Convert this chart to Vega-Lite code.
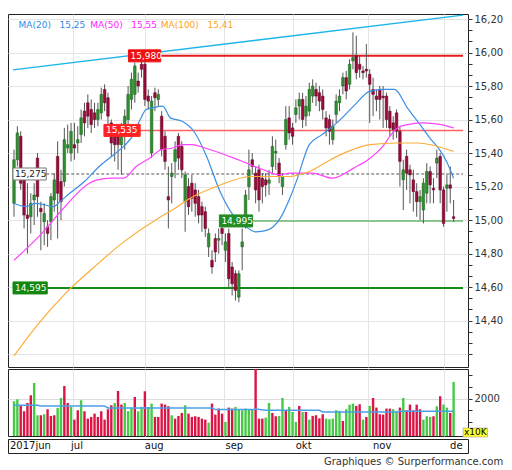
{
"$schema":"https://vega.github.io/schema/vega-lite/v6.json",
"background":"#ffffff",
"padding":{"left":7,"top":13,"right":2,"bottom":2},
"autosize":{"type":"pad"},
"spacing":0,
"config":{"view":{"stroke":"#222222","strokeWidth":1},"font":"DejaVu Sans","axis":{"labelFont":"DejaVu Sans"}},
"title":{"text":"Graphiques © Surperformance.com","orient":"bottom","anchor":"end","fontSize":10,"fontWeight":"normal","color":"#333333","font":"DejaVu Sans","offset":3},
"datasets":{
"p":[
{"i":0,"o":15.10,"h":15.42,"l":15.02,"c":15.36,"v":1889,"u":1},
{"i":1,"o":15.36,"h":15.56,"l":15.32,"c":15.52,"v":1974,"u":1},
{"i":2,"o":15.50,"h":15.53,"l":15.18,"c":15.22,"v":1688,"u":0},
{"i":3,"o":15.25,"h":15.30,"l":14.95,"c":15.03,"v":1460,"u":0},
{"i":4,"o":15.03,"h":15.22,"l":14.80,"c":15.01,"v":1816,"u":0},
{"i":5,"o":15.02,"h":15.16,"l":14.92,"c":15.10,"v":2145,"u":0},
{"i":6,"o":15.12,"h":15.22,"l":14.97,"c":15.15,"v":2672,"u":1},
{"i":7,"o":15.37,"h":15.40,"l":15.02,"c":15.14,"v":1289,"u":1},
{"i":8,"o":15.07,"h":15.11,"l":14.82,"c":15.05,"v":1289,"u":0},
{"i":9,"o":14.99,"h":15.10,"l":14.85,"c":15.04,"v":1332,"u":1},
{"i":10,"o":14.96,"h":15.00,"l":14.84,"c":14.92,"v":1546,"u":0},
{"i":11,"o":14.99,"h":15.16,"l":14.88,"c":15.14,"v":1260,"u":0},
{"i":12,"o":15.12,"h":15.28,"l":15.05,"c":15.24,"v":1289,"u":0},
{"i":13,"o":15.38,"h":15.47,"l":14.89,"c":15.16,"v":1602,"u":1},
{"i":14,"o":15.23,"h":15.30,"l":15.00,"c":15.11,"v":2030,"u":1},
{"i":15,"o":15.23,"h":15.55,"l":15.20,"c":15.48,"v":2544,"u":0},
{"i":16,"o":15.43,"h":15.57,"l":15.40,"c":15.45,"v":1816,"u":0},
{"i":17,"o":15.40,"h":15.58,"l":15.35,"c":15.53,"v":1645,"u":1},
{"i":18,"o":15.45,"h":15.58,"l":15.36,"c":15.43,"v":1101,"u":0},
{"i":19,"o":15.46,"h":15.56,"l":15.40,"c":15.48,"v":1503,"u":0},
{"i":20,"o":15.51,"h":15.66,"l":15.46,"c":15.61,"v":1931,"u":1},
{"i":21,"o":15.65,"h":15.70,"l":15.50,"c":15.58,"v":1460,"u":0},
{"i":22,"o":15.70,"h":15.75,"l":15.55,"c":15.62,"v":1144,"u":0},
{"i":23,"o":15.66,"h":15.72,"l":15.52,"c":15.57,"v":1217,"u":0},
{"i":24,"o":15.64,"h":15.70,"l":15.55,"c":15.60,"v":1358,"u":0},
{"i":25,"o":15.60,"h":15.70,"l":15.56,"c":15.66,"v":1217,"u":0},
{"i":26,"o":15.64,"h":15.79,"l":15.60,"c":15.75,"v":1460,"u":0},
{"i":27,"o":15.78,"h":15.81,"l":15.65,"c":15.70,"v":1101,"u":0},
{"i":28,"o":15.73,"h":15.76,"l":15.55,"c":15.62,"v":1546,"u":0},
{"i":29,"o":15.58,"h":15.60,"l":15.38,"c":15.46,"v":1717,"u":0},
{"i":30,"o":15.52,"h":15.55,"l":15.35,"c":15.45,"v":1816,"u":1},
{"i":31,"o":15.50,"h":15.56,"l":15.30,"c":15.45,"v":2330,"u":0},
{"i":32,"o":15.45,"h":15.58,"l":15.27,"c":15.53,"v":1745,"u":0},
{"i":33,"o":15.52,"h":15.66,"l":15.42,"c":15.62,"v":1816,"u":1},
{"i":34,"o":15.60,"h":15.80,"l":15.55,"c":15.75,"v":1460,"u":1},
{"i":35,"o":15.72,"h":15.88,"l":15.66,"c":15.84,"v":1602,"u":1},
{"i":36,"o":15.75,"h":15.94,"l":15.70,"c":15.92,"v":2073,"u":0},
{"i":37,"o":15.83,"h":15.88,"l":15.76,"c":15.80,"v":1460,"u":1},
{"i":38,"o":15.93,"h":15.96,"l":15.85,"c":15.90,"v":1645,"u":1},
{"i":39,"o":15.93,"h":15.98,"l":15.68,"c":15.72,"v":2316,"u":0},
{"i":40,"o":15.74,"h":15.78,"l":15.66,"c":15.71,"v":1645,"u":1},
{"i":41,"o":15.40,"h":15.74,"l":15.37,"c":15.71,"v":1788,"u":1},
{"i":42,"o":15.76,"h":15.79,"l":15.65,"c":15.73,"v":1217,"u":0},
{"i":43,"o":15.72,"h":15.78,"l":15.68,"c":15.75,"v":1217,"u":0},
{"i":44,"o":15.62,"h":15.65,"l":15.38,"c":15.42,"v":1788,"u":0},
{"i":45,"o":15.50,"h":15.53,"l":15.30,"c":15.35,"v":1745,"u":0},
{"i":46,"o":15.14,"h":15.32,"l":14.95,"c":15.12,"v":1674,"u":0},
{"i":47,"o":15.26,"h":15.34,"l":15.10,"c":15.28,"v":1289,"u":1},
{"i":48,"o":15.35,"h":15.47,"l":15.25,"c":15.42,"v":1144,"u":0},
{"i":49,"o":15.50,"h":15.52,"l":15.30,"c":15.37,"v":1260,"u":0},
{"i":50,"o":15.44,"h":15.47,"l":15.25,"c":15.30,"v":1388,"u":0},
{"i":51,"o":15.11,"h":15.29,"l":14.93,"c":15.27,"v":1717,"u":1},
{"i":52,"o":15.20,"h":15.25,"l":15.03,"c":15.08,"v":1358,"u":0},
{"i":53,"o":15.22,"h":15.27,"l":15.05,"c":15.13,"v":1217,"u":0},
{"i":54,"o":15.18,"h":15.22,"l":15.02,"c":15.10,"v":1246,"u":0},
{"i":55,"o":15.14,"h":15.18,"l":14.98,"c":15.03,"v":1217,"u":0},
{"i":56,"o":15.08,"h":15.11,"l":14.93,"c":15.03,"v":1144,"u":0},
{"i":57,"o":15.05,"h":15.08,"l":14.90,"c":14.95,"v":1101,"u":0},
{"i":58,"o":14.84,"h":14.95,"l":14.78,"c":14.92,"v":973,"u":1},
{"i":59,"o":14.76,"h":14.82,"l":14.68,"c":14.72,"v":1788,"u":0},
{"i":60,"o":14.89,"h":14.92,"l":14.75,"c":14.81,"v":1317,"u":0},
{"i":61,"o":14.88,"h":14.95,"l":14.80,"c":14.89,"v":1574,"u":0},
{"i":62,"o":14.95,"h":15.00,"l":14.85,"c":14.92,"v":1358,"u":0},
{"i":63,"o":14.82,"h":14.92,"l":14.75,"c":14.87,"v":1003,"u":1},
{"i":64,"o":14.92,"h":14.95,"l":14.60,"c":14.65,"v":1617,"u":0},
{"i":65,"o":14.72,"h":14.75,"l":14.55,"c":14.62,"v":1574,"u":0},
{"i":66,"o":14.68,"h":14.70,"l":14.52,"c":14.58,"v":1645,"u":1},
{"i":67,"o":14.54,"h":14.70,"l":14.51,"c":14.68,"v":1546,"u":1},
{"i":68,"o":14.84,"h":14.95,"l":14.70,"c":14.87,"v":1503,"u":1},
{"i":69,"o":15.00,"h":15.18,"l":14.95,"c":15.15,"v":1574,"u":1},
{"i":70,"o":15.20,"h":15.42,"l":15.12,"c":15.30,"v":1546,"u":1},
{"i":71,"o":15.36,"h":15.40,"l":15.28,"c":15.32,"v":1546,"u":1},
{"i":72,"o":15.28,"h":15.32,"l":15.10,"c":15.18,"v":3400,"u":0},
{"i":73,"o":15.30,"h":15.33,"l":15.05,"c":15.12,"v":1144,"u":0},
{"i":74,"o":15.25,"h":15.28,"l":15.10,"c":15.20,"v":1144,"u":0},
{"i":75,"o":15.24,"h":15.28,"l":15.14,"c":15.21,"v":1187,"u":1},
{"i":76,"o":15.22,"h":15.30,"l":15.15,"c":15.24,"v":1816,"u":1},
{"i":77,"o":15.32,"h":15.50,"l":15.28,"c":15.44,"v":1388,"u":0},
{"i":78,"o":15.40,"h":15.48,"l":15.30,"c":15.41,"v":1246,"u":0},
{"i":79,"o":15.34,"h":15.37,"l":15.22,"c":15.26,"v":1260,"u":1},
{"i":80,"o":15.20,"h":15.28,"l":15.15,"c":15.26,"v":2030,"u":1},
{"i":81,"o":15.45,"h":15.68,"l":15.42,"c":15.60,"v":1503,"u":0},
{"i":82,"o":15.61,"h":15.68,"l":15.48,"c":15.52,"v":1645,"u":1},
{"i":83,"o":15.55,"h":15.58,"l":15.45,"c":15.50,"v":1431,"u":1},
{"i":84,"o":15.63,"h":15.72,"l":15.58,"c":15.67,"v":1003,"u":1},
{"i":85,"o":15.68,"h":15.76,"l":15.60,"c":15.72,"v":1688,"u":0},
{"i":86,"o":15.72,"h":15.76,"l":15.55,"c":15.60,"v":1431,"u":1},
{"i":87,"o":15.62,"h":15.74,"l":15.56,"c":15.68,"v":1431,"u":0},
{"i":88,"o":15.65,"h":15.82,"l":15.62,"c":15.78,"v":1101,"u":1},
{"i":89,"o":15.74,"h":15.84,"l":15.70,"c":15.80,"v":1260,"u":0},
{"i":90,"o":15.78,"h":15.82,"l":15.68,"c":15.74,"v":1289,"u":0},
{"i":91,"o":15.76,"h":15.80,"l":15.65,"c":15.71,"v":1158,"u":0},
{"i":92,"o":15.74,"h":15.78,"l":15.60,"c":15.66,"v":1332,"u":0},
{"i":93,"o":15.61,"h":15.65,"l":15.50,"c":15.55,"v":1144,"u":1},
{"i":94,"o":15.60,"h":15.63,"l":15.45,"c":15.53,"v":1118,"u":1},
{"i":95,"o":15.48,"h":15.60,"l":15.45,"c":15.56,"v":1144,"u":1},
{"i":96,"o":15.63,"h":15.75,"l":15.58,"c":15.71,"v":1503,"u":1},
{"i":97,"o":15.70,"h":15.78,"l":15.65,"c":15.74,"v":1474,"u":1},
{"i":98,"o":15.80,"h":15.88,"l":15.75,"c":15.85,"v":1046,"u":0},
{"i":99,"o":15.85,"h":15.89,"l":15.72,"c":15.77,"v":1546,"u":1},
{"i":100,"o":15.81,"h":15.96,"l":15.78,"c":15.93,"v":1745,"u":1},
{"i":101,"o":15.95,"h":16.12,"l":15.90,"c":15.97,"v":1788,"u":1},
{"i":102,"o":15.98,"h":16.10,"l":15.84,"c":15.88,"v":1688,"u":0},
{"i":103,"o":15.93,"h":15.98,"l":15.85,"c":15.90,"v":1760,"u":0},
{"i":104,"o":15.89,"h":15.92,"l":15.84,"c":15.88,"v":1101,"u":1},
{"i":105,"o":15.90,"h":16.05,"l":15.85,"c":15.89,"v":1217,"u":0},
{"i":106,"o":15.87,"h":15.90,"l":15.58,"c":15.81,"v":1688,"u":1},
{"i":107,"o":15.78,"h":15.85,"l":15.62,"c":15.75,"v":2030,"u":0},
{"i":108,"o":15.74,"h":15.78,"l":15.65,"c":15.72,"v":1617,"u":0},
{"i":109,"o":15.78,"h":15.80,"l":15.60,"c":15.72,"v":1332,"u":0},
{"i":110,"o":15.74,"h":15.80,"l":15.55,"c":15.73,"v":1317,"u":0},
{"i":111,"o":15.74,"h":15.76,"l":15.55,"c":15.60,"v":1574,"u":0},
{"i":112,"o":15.65,"h":15.68,"l":15.50,"c":15.55,"v":1574,"u":0},
{"i":113,"o":15.58,"h":15.62,"l":15.48,"c":15.54,"v":1546,"u":1},
{"i":114,"o":15.64,"h":15.66,"l":15.49,"c":15.53,"v":1431,"u":1},
{"i":115,"o":15.53,"h":15.56,"l":15.20,"c":15.35,"v":1617,"u":0},
{"i":116,"o":15.24,"h":15.36,"l":15.06,"c":15.30,"v":2030,"u":1},
{"i":117,"o":15.38,"h":15.42,"l":15.18,"c":15.28,"v":1503,"u":0},
{"i":118,"o":15.30,"h":15.33,"l":15.10,"c":15.27,"v":1745,"u":0},
{"i":119,"o":15.24,"h":15.30,"l":15.05,"c":15.17,"v":1503,"u":0},
{"i":120,"o":15.17,"h":15.22,"l":15.02,"c":15.11,"v":1745,"u":0},
{"i":121,"o":15.11,"h":15.18,"l":15.00,"c":15.14,"v":1546,"u":0},
{"i":122,"o":15.06,"h":15.25,"l":14.98,"c":15.22,"v":1101,"u":1},
{"i":123,"o":15.16,"h":15.34,"l":15.10,"c":15.29,"v":1246,"u":1},
{"i":124,"o":15.29,"h":15.32,"l":15.10,"c":15.21,"v":1217,"u":1},
{"i":125,"o":15.19,"h":15.25,"l":15.10,"c":15.18,"v":1246,"u":0},
{"i":126,"o":15.34,"h":15.42,"l":15.25,"c":15.37,"v":1674,"u":1},
{"i":127,"o":15.38,"h":15.40,"l":15.10,"c":15.18,"v":2103,"u":0},
{"i":128,"o":15.18,"h":15.20,"l":14.96,"c":14.98,"v":1745,"u":1},
{"i":129,"o":15.19,"h":15.27,"l":15.05,"c":15.21,"v":1617,"u":1},
{"i":130,"o":15.21,"h":15.32,"l":15.10,"c":15.19,"v":1388,"u":0},
{"i":131,"o":15.02,"h":15.12,"l":14.99,"c":15.01,"v":2715,"u":1}
],
"ma20":[{"i":0,"p":15.10},{"i":3.5,"p":15.08},{"i":6.4,"p":15.10},{"i":9.3,"p":15.09},{"i":11.7,"p":15.08},{"i":13.7,"p":15.11},{"i":16.6,"p":15.16},{"i":21,"p":15.23},{"i":25.4,"p":15.32},{"i":29.7,"p":15.39},{"i":33.2,"p":15.45},{"i":35.6,"p":15.51},{"i":37.6,"p":15.60},{"i":39.4,"p":15.66},{"i":41.4,"p":15.67},{"i":44.3,"p":15.68},{"i":46.6,"p":15.61},{"i":50.1,"p":15.59},{"i":53.6,"p":15.53},{"i":57.4,"p":15.38},{"i":61.2,"p":15.18},{"i":65.3,"p":15.03},{"i":68.5,"p":14.97},{"i":72,"p":14.93},{"i":75.5,"p":14.94},{"i":79.3,"p":15.01},{"i":82.2,"p":15.13},{"i":84.3,"p":15.24},{"i":88,"p":15.45},{"i":91.8,"p":15.51},{"i":96.2,"p":15.58},{"i":101.2,"p":15.68},{"i":106.1,"p":15.77},{"i":109.9,"p":15.78},{"i":113.4,"p":15.78},{"i":117.2,"p":15.67},{"i":121,"p":15.57},{"i":123.9,"p":15.49},{"i":126.8,"p":15.42},{"i":128.9,"p":15.35},{"i":131,"p":15.25}],
"ma50":[{"i":0,"p":14.76},{"i":8.7,"p":14.93},{"i":14.3,"p":15.06},{"i":22.4,"p":15.22},{"i":24.8,"p":15.24},{"i":28.9,"p":15.25},{"i":32.7,"p":15.25},{"i":36.4,"p":15.32},{"i":40.5,"p":15.37},{"i":43.9,"p":15.42},{"i":47.2,"p":15.43},{"i":50.1,"p":15.45},{"i":53,"p":15.45},{"i":56.9,"p":15.43},{"i":66.8,"p":15.36},{"i":74.3,"p":15.30},{"i":79.3,"p":15.27},{"i":82.2,"p":15.28},{"i":88.9,"p":15.28},{"i":94.8,"p":15.25},{"i":101.2,"p":15.31},{"i":105.5,"p":15.36},{"i":109.9,"p":15.44},{"i":112.8,"p":15.52},{"i":114.3,"p":15.55},{"i":117.2,"p":15.57},{"i":121.6,"p":15.58},{"i":127.4,"p":15.57},{"i":131,"p":15.55}],
"ma100":[{"i":0,"p":14.19},{"i":6.4,"p":14.36},{"i":15.2,"p":14.56},{"i":23.9,"p":14.72},{"i":32.7,"p":14.87},{"i":42.9,"p":15.01},{"i":47.2,"p":15.06},{"i":52.5,"p":15.13},{"i":60.3,"p":15.20},{"i":70.6,"p":15.26},{"i":82.2,"p":15.26},{"i":88,"p":15.29},{"i":96.2,"p":15.38},{"i":106.1,"p":15.45},{"i":114.3,"p":15.46},{"i":120.1,"p":15.46},{"i":131,"p":15.41}],
"va":[{"i":0,"v":1717},{"i":7,"v":1717},{"i":8,"v":1688},{"i":27,"v":1688},{"i":28,"v":1602},{"i":59,"v":1602},{"i":60,"v":1530},{"i":71,"v":1530},{"i":72,"v":1560},{"i":75,"v":1503},{"i":91,"v":1503},{"i":92,"v":1431},{"i":114,"v":1431},{"i":115,"v":1460},{"i":131,"v":1460}],
"lv":[{"k":"r","p":15.98,"t":"15,980","b1":34.1,"b2":43.7},{"k":"rl","p":15.535,"t":"15,535","b1":26.8,"b2":37.6},{"k":"d","p":15.275,"t":"15,275","b1":-0.3,"b2":9.6},{"k":"gl","p":14.995,"t":"14,995","b1":61.2,"b2":71.1},{"k":"g","p":14.595,"t":"14,595","b1":-0.3,"b2":9.9}],
"mo":[{"i":-0.3,"m":"2017jun"},{"i":17.5,"m":"jul"},{"i":39,"m":"aug"},{"i":62.5,"m":"sep"},{"i":83,"m":"okt"},{"i":105.5,"m":"nov"},{"i":128,"m":"de"}]
},
"vconcat":[
{
"width":460,"height":353,
"layer":[
{"data":{"name":"lv"},"mark":{"type":"rule","clip":true},
"encoding":{
"x":{"field":"b2","type":"quantitative","scale":{"domain":[-0.3,133.8],"nice":false,"zero":false},"title":null,"axis":{"values":[17.5,39,62.5,83,105.5,128],"tickCount":100,"grid":true,"gridColor":"#e4e4e4","labels":false,"ticks":false,"domain":false,"title":null}},
"x2":{"datum":133.8},
"y":{"field":"p","type":"quantitative","scale":{"domain":[14.153,16.2],"nice":false,"zero":false},"title":null,"axis":{"orient":"right","values":[14.2,14.2667,14.3333,14.4,14.4667,14.5333,14.6,14.6667,14.7333,14.8,14.8667,14.9333,15,15.0667,15.1333,15.2,15.2667,15.3333,15.4,15.4667,15.5333,15.6,15.6667,15.7333,15.8,15.8667,15.9333,16,16.0667,16.1333,16.2],"tickCount":100,"labelExpr":"(abs(datum.value*5-round(datum.value*5))<0.001 && datum.value>14.3) ? replace(format(datum.value,'.2f'),'.',',') : ''","labelOverlap":false,"grid":true,"gridColor":{"condition":{"test":"abs(datum.value*5-round(datum.value*5))<0.001","value":"#e4e4e4"},"value":"rgba(0,0,0,0)"},"domain":false,"tickSize":4,"tickColor":"#333333","labelColor":"#333333","labelFontSize":10,"labelPadding":2,"title":null}},
"color":{"condition":[{"test":"datum.k=='r'","value":"#e31b1b"},{"test":"datum.k=='rl'","value":"#ff6161"},{"test":"datum.k=='d'","value":"#555555"},{"test":"datum.k=='gl'","value":"#6cb86c"}],"value":"#158c15"},
"strokeWidth":{"condition":[{"test":"datum.k=='r'||datum.k=='g'","value":2},{"test":"datum.k=='d'","value":1}],"value":1.5},
"strokeDash":{"condition":{"test":"datum.k=='d'","value":[3,2]},"value":[1,0]}
}},
{"data":{"values":[{"i":-0.3,"p":15.897},{"i":133.8,"p":16.223}]},"mark":{"type":"line","color":"#1ab4ea","strokeWidth":1.3,"clip":true},
"encoding":{"x":{"field":"i","type":"quantitative","title":null},"y":{"field":"p","type":"quantitative","title":null}}},
{"data":{"name":"p"},"mark":{"type":"rule","color":"#555555","strokeWidth":1,"clip":true},
"encoding":{"x":{"field":"i","type":"quantitative","title":null},"y":{"field":"l","type":"quantitative","title":null},"y2":{"field":"h"}}},
{"data":{"name":"p"},"mark":{"type":"bar","width":2.6,"strokeWidth":0.5,"clip":true},
"encoding":{"x":{"field":"i","type":"quantitative","title":null},"y":{"field":"o","type":"quantitative","title":null},"y2":{"field":"c"},
"fill":{"condition":{"test":"datum.c>=datum.o","value":"#2f8f2f"},"value":"#9a0a3a"},
"stroke":{"condition":{"test":"datum.c>=datum.o","value":"#1b5e1b"},"value":"#5e0522"}}},
{"data":{"name":"ma20"},"mark":{"type":"line","strokeWidth":1.2,"interpolate":"monotone","clip":true,"color":"#3a8ee6"},
"encoding":{"x":{"field":"i","type":"quantitative","title":null},"y":{"field":"p","type":"quantitative","title":null}}},
{"data":{"name":"ma50"},"mark":{"type":"line","strokeWidth":1.2,"interpolate":"monotone","clip":true,"color":"#ff44ff"},
"encoding":{"x":{"field":"i","type":"quantitative","title":null},"y":{"field":"p","type":"quantitative","title":null}}},
{"data":{"name":"ma100"},"mark":{"type":"line","strokeWidth":1.2,"interpolate":"monotone","clip":true,"color":"#ffad3a"},
"encoding":{"x":{"field":"i","type":"quantitative","title":null},"y":{"field":"p","type":"quantitative","title":null}}},
{"data":{"name":"lv"},"mark":{"type":"bar","height":12,"strokeWidth":1},
"encoding":{"x":{"field":"b1","type":"quantitative","title":null},"x2":{"field":"b2"},"y":{"field":"p","type":"quantitative","title":null},
"fill":{"condition":[{"test":"datum.k=='r'","value":"#ee1111"},{"test":"datum.k=='rl'","value":"#ff2222"},{"test":"datum.k=='d'","value":"#ffffff"},{"test":"datum.k=='gl'","value":"#238c23"}],"value":"#128812"},
"stroke":{"condition":[{"test":"datum.k=='r'","value":"#ee1111"},{"test":"datum.k=='rl'","value":"#ff2222"},{"test":"datum.k=='d'","value":"#777777"},{"test":"datum.k=='gl'","value":"#238c23"}],"value":"#128812"}}},
{"data":{"name":"lv"},"mark":{"type":"text","align":"left","dx":2,"fontSize":9,"baseline":"middle","font":"DejaVu Sans"},
"encoding":{"x":{"field":"b1","type":"quantitative","title":null},"y":{"field":"p","type":"quantitative","title":null},"text":{"field":"t"},
"color":{"condition":{"test":"datum.k=='d'","value":"#222222"},"value":"#ffffff"}}},
{"data":{"values":[{}]},"mark":{"type":"text","text":"MA(20)\u00a0\u00a0\u00a015,25","color":"#2f8be8","fontSize":9,"align":"left","baseline":"middle","font":"DejaVu Sans"},
"encoding":{"x":{"datum":1.36,"type":"quantitative"},"y":{"datum":16.165,"type":"quantitative"}}},
{"data":{"values":[{}]},"mark":{"type":"text","text":"MA(50)\u00a0\u00a0\u00a015,55","color":"#ff22ff","fontSize":9,"align":"left","baseline":"middle","font":"DejaVu Sans"},
"encoding":{"x":{"datum":22.73,"type":"quantitative"},"y":{"datum":16.165,"type":"quantitative"}}},
{"data":{"values":[{}]},"mark":{"type":"text","text":"MA(100)\u00a0\u00a0\u00a015,41","color":"#ffa31a","fontSize":9,"align":"left","baseline":"middle","font":"DejaVu Sans"},
"encoding":{"x":{"datum":43.72,"type":"quantitative"},"y":{"datum":16.165,"type":"quantitative"}}}
]
},
{
"width":460,"height":67,
"layer":[
{"data":{"name":"p"},"mark":{"type":"bar","width":2.4,"clip":true},
"encoding":{
"x":{"field":"i","type":"quantitative","scale":{"domain":[-0.3,133.8],"nice":false,"zero":false},"title":null,"axis":{"values":[17.5,39,62.5,83,105.5,128],"tickCount":100,"grid":true,"gridColor":"#e4e4e4","labels":false,"ticks":false,"domain":false,"title":null}},
"y":{"field":"v","type":"quantitative","scale":{"domain":[400,3270],"nice":false,"zero":false},"title":null,"axis":{"orient":"right","values":[1000,1500,2000,2500,3000],"tickCount":100,"labelExpr":"datum.value==2000?'2000':''","labelOverlap":false,"tickSize":4,"tickColor":"#333333","labelColor":"#333333","labelFontSize":10,"labelPadding":2,"domain":false,"grid":true,"gridColor":{"condition":{"test":"datum.value==2000","value":"#dddddd"},"value":"rgba(0,0,0,0)"},"title":null}},
"y2":{"datum":400},
"color":{"condition":{"test":"datum.u==1","value":"#47c947"},"value":"#dc1446"}}},
{"data":{"name":"va"},"mark":{"type":"line","color":"#4aa0e6","strokeWidth":1.5,"clip":true},
"encoding":{"x":{"field":"i","type":"quantitative","title":null},"y":{"field":"v","type":"quantitative","title":null}}},
{"data":{"values":[{}]},"mark":{"type":"rect","fill":"#ffff33","stroke":"#888888","strokeWidth":0.5,"clip":false},
"encoding":{"x":{"datum":133.8,"type":"quantitative"},"x2":{"datum":141.1},"y":{"datum":357,"type":"quantitative"},"y2":{"datum":742}}},
{"data":{"values":[{}]},"mark":{"type":"text","text":"x10K","fontSize":9,"color":"#000000","clip":false,"baseline":"middle","align":"center"},
"encoding":{"x":{"datum":137.45,"type":"quantitative"},"y":{"datum":550,"type":"quantitative"}}}
]
},
{
"width":460,"height":14,
"data":{"name":"mo"},
"mark":{"type":"text","align":"left","dx":2,"fontSize":10,"color":"#111111","baseline":"middle","font":"DejaVu Sans"},
"encoding":{"x":{"field":"i","type":"quantitative","scale":{"domain":[-0.3,133.8],"nice":false,"zero":false},"axis":null},"text":{"field":"m"}}
}
]
}
